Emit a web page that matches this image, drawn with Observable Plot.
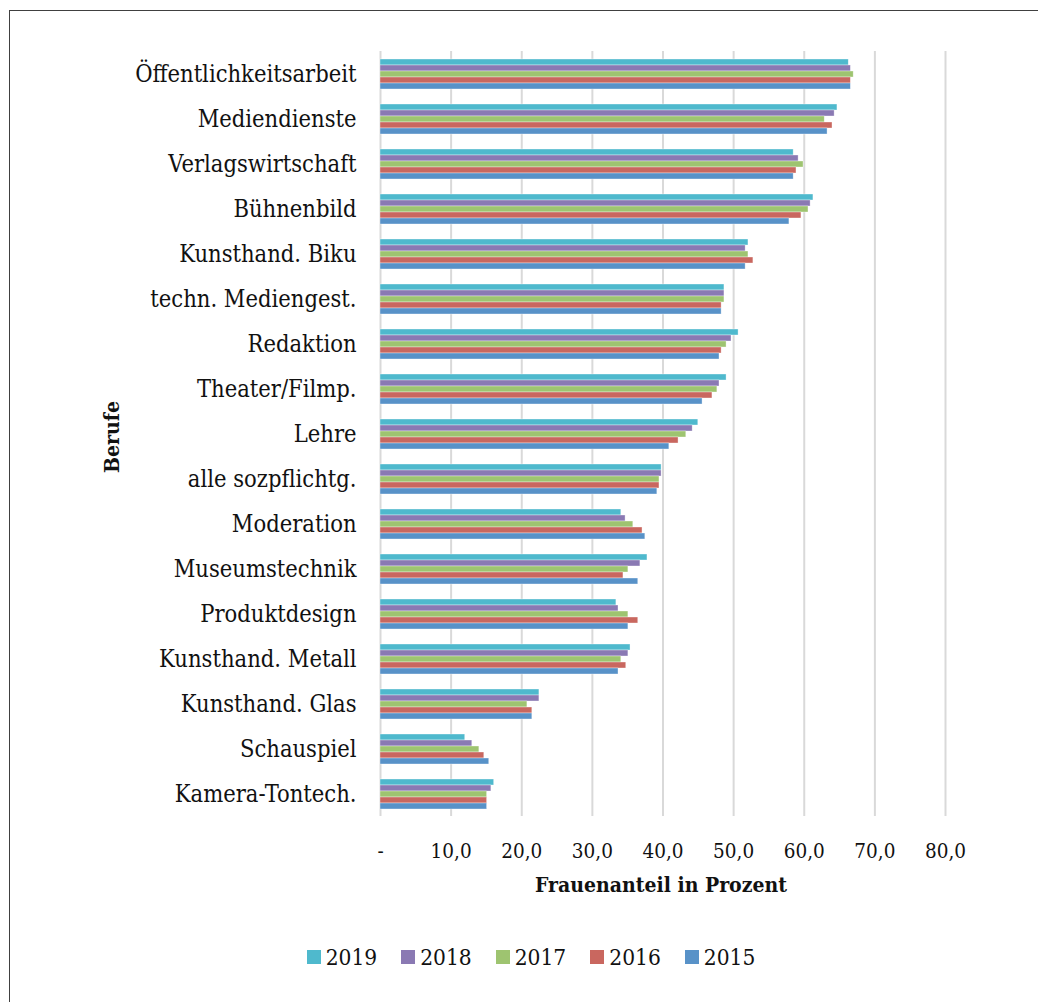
<!DOCTYPE html>
<html>
<head>
<meta charset="utf-8">
<script src="https://cdn.jsdelivr.net/npm/d3@7"></script>
<script src="https://cdn.jsdelivr.net/npm/@observablehq/plot@0.6"></script>
<style>
  html, body { margin: 0; padding: 0; background: #fff; width: 1038px; height: 1002px; overflow: hidden; }
  #frame { position: absolute; left: 9px; top: 10px; width: 1100px; height: 1100px; border-top: 1px solid #404040; border-left: 1px solid #404040; box-sizing: border-box; }
  #chart { position: absolute; left: 0; top: 0; }
  #legend { position: absolute; top: 944px; left: 0; width: 1062px; display: flex; justify-content: center; gap: 24px;
            font-family: "DejaVu Serif Condensed", "DejaVu Serif", serif; font-size: 22.5px; color: #111; }
  .item { display: flex; align-items: center; }
  .sw { width: 14px; height: 14px; margin-right: 5px; }
</style>
</head>
<body>
<div id="frame"></div>
<div id="chart"></div>
<div id="legend"></div>
<script>
const categories = [
  "Öffentlichkeitsarbeit", "Mediendienste", "Verlagswirtschaft", "Bühnenbild",
  "Kunsthand. Biku", "techn. Mediengest.", "Redaktion", "Theater/Filmp.",
  "Lehre", "alle sozpflichtg.", "Moderation", "Museumstechnik",
  "Produktdesign", "Kunsthand. Metall", "Kunsthand. Glas", "Schauspiel", "Kamera-Tontech."
];
const years = ["2019", "2018", "2017", "2016", "2015"];
const colors = ["#4fb9cd", "#8a79b3", "#9ec470", "#c9675f", "#5892c8"];
// values per category, in the order of `years`
const v2019 = [66.3, 64.7, 58.5, 61.3, 52.1, 48.7, 50.7, 49.0, 45.0, 39.8, 34.1, 37.8, 33.4, 35.4, 22.5, 12.0, 16.1];
const v2018 = [66.6, 64.3, 59.2, 60.9, 51.7, 48.7, 49.7, 48.0, 44.2, 39.8, 34.7, 36.8, 33.7, 35.1, 22.5, 13.0, 15.7];
const v2017 = [67.0, 62.9, 59.9, 60.6, 52.1, 48.7, 49.0, 47.7, 43.3, 39.5, 35.8, 35.1, 35.1, 34.1, 20.8, 14.0, 15.1];
const v2016 = [66.6, 64.0, 58.9, 59.6, 52.8, 48.3, 48.3, 47.0, 42.2, 39.5, 37.1, 34.4, 36.5, 34.8, 21.5, 14.7, 15.1];
const v2015 = [66.6, 63.3, 58.5, 57.9, 51.7, 48.3, 48.0, 45.6, 40.9, 39.2, 37.5, 36.5, 35.1, 33.7, 21.5, 15.4, 15.1];
const xTicks = [0, 10, 20, 30, 40, 50, 60, 70, 80];
const xLabel = "Frauenanteil in Prozent";
const yLabel = "Berufe";

const series = [v2019, v2018, v2017, v2016, v2015];
const data = [];
categories.forEach((c, i) => years.forEach((y, j) => data.push({cat: c, year: y, value: series[j][i]})));

const font = '"DejaVu Serif Condensed", "DejaVu Serif", serif';

const chart = Plot.plot({
  width: 1038,
  height: 911,
  marginTop: 50,
  marginBottom: 95,
  marginLeft: 380,
  marginRight: 93,
  style: {fontFamily: font, color: "#111", background: "transparent"},
  x: {domain: [0, 80]},
  y: {domain: years, paddingInner: 0, paddingOuter: 1.08, axis: null},
  fy: {domain: categories, padding: 0},
  color: {domain: years, range: colors},
  marks: [
    Plot.gridX(xTicks, {stroke: "#d9d9d9", strokeWidth: 2, strokeOpacity: 1}),
    Plot.barX(data, {x: "value", y: "year", fy: "cat", fill: "year", stroke: "white", strokeWidth: 0.6, strokeOpacity: 0.6}),
    Plot.axisFy({anchor: "left", tickSize: 0, tickPadding: 24, fontSize: 23.5, label: null}),
    Plot.axisX(xTicks, {anchor: "bottom", tickSize: 0, tickPadding: 27, fontSize: 20.5, label: null,
      tickFormat: d => d === 0 ? "-" : d.toFixed(1).replace(".", ",")})
  ]
});
document.getElementById("chart").appendChild(chart);

const svg = d3.select(chart);
svg.append("text")
  .attr("transform", "translate(113,437) rotate(-90)")
  .attr("text-anchor", "middle")
  .attr("dominant-baseline", "middle")
  .style("font-family", font)
  .style("font-size", "21px")
  .style("font-weight", "bold")
  .attr("fill", "#111")
  .text(yLabel);
svg.append("text")
  .attr("x", 661)
  .attr("y", 886)
  .attr("text-anchor", "middle")
  .attr("dominant-baseline", "middle")
  .style("font-family", font)
  .style("font-size", "21px")
  .style("font-weight", "bold")
  .attr("fill", "#111")
  .text(xLabel);

const legend = d3.select("#legend");
years.forEach((y, i) => {
  const it = legend.append("div").attr("class", "item");
  it.append("div").attr("class", "sw").style("background", colors[i]);
  it.append("span").text(y);
});
</script>
</body>
</html>
